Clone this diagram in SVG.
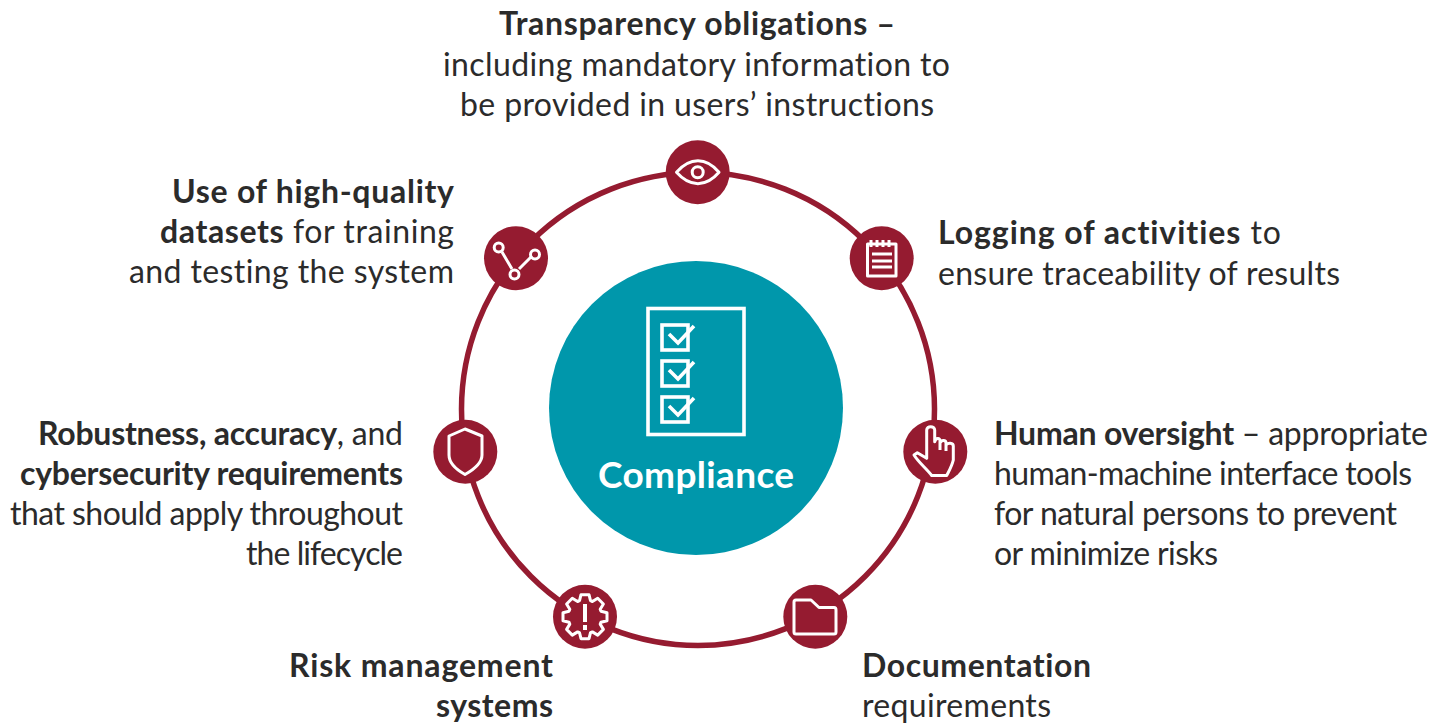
<svg xmlns="http://www.w3.org/2000/svg" width="1448" height="724" viewBox="0 0 1448 724">
<style>
text{font-family:"Lato","Noto Sans",sans-serif;font-size:32px;fill:#2b2b2b;font-variant-ligatures:none}
.b{font-weight:700}
.node{fill:#951b30}
.i{fill:none;stroke:#fff;stroke-width:3;stroke-linejoin:round;stroke-linecap:butt}
.c{fill:none;stroke:#fff;stroke-width:3.6}
</style>
<rect width="1448" height="724" fill="#fff"/>
<g id="connectors"><circle cx="698" cy="409" r="236.5" fill="none" stroke="#951b30" stroke-width="5.5"/></g>
<g id="compliance">
<circle cx="696" cy="408" r="147" fill="#0097ab"/>
<rect x="648" y="308.500" width="96" height="126" class="c"/>
<g id="check1"><rect x="662" y="325" width="26" height="25" class="c"/><path d="M669 334l9 9 16-17" class="c"/></g>
<g id="check2"><rect x="662" y="361" width="26" height="25" class="c"/><path d="M669 370l9 9 16-17" class="c"/></g>
<g id="check3"><rect x="662" y="397" width="26" height="25" class="c"/><path d="M669 406l9 9 16-17" class="c"/></g>
<text x="598" y="488" textLength="196" style="font-size:37px;font-weight:700;fill:#fff">Compliance</text>
</g>
<g id="transparency">
<circle class="node" cx="697.700" cy="172.300" r="32"/>
<path class="i" d="M676.500 172.300C690 157 706 157 719 172.300C706 187.500 690 187.500 676.500 172.300Z"/>
<circle class="i" cx="697.700" cy="172.300" r="5.500"/>
<text x="499" y="35" textLength="396" class="b">Transparency obligations –</text>
<text x="443" y="76" textLength="507">including mandatory information to</text>
<text x="460" y="116" textLength="474">be provided in users’ instructions</text>
</g>
<g id="logging">
<circle class="node" cx="881.700" cy="258.300" r="32"/>
<path class="i" d="M867.500 244H896V276H867.500ZM871 240V247M877 240V247M883 240V247M889 240V247M872 254H892M872 261H892M872 267H892"/>
<text x="938" y="244" textLength="343"><tspan class="b">Logging of activities</tspan> to</text>
<text x="938" y="285" textLength="402">ensure traceability of results</text>
</g>
<g id="oversight">
<circle class="node" cx="935.300" cy="451.700" r="32"/>
<path class="i" d="M914 455L917.300 452.700L926.700 458.300V430C926.700 425.500 934.700 425.500 934.700 430V441.700C936 437.500 940 437.500 940 441V443C941 439.500 946 439.500 946 443V445C948 442.500 953.300 442.500 953.300 446V460C952 466 949 471 946.700 475.500H931.700C926 468 919 463 914 455ZM940 441V450M946 443V451"/>
<text x="994" y="445" textLength="434"><tspan class="b">Human oversight</tspan> – appropriate</text>
<text x="994" y="485" textLength="418">human-machine interface tools</text>
<text x="994" y="525" textLength="403">for natural persons to prevent</text>
<text x="994" y="565" textLength="224">or minimize risks</text>
</g>
<g id="documentation">
<circle class="node" cx="815.300" cy="616.700" r="32"/>
<path class="i" d="M794 602C794 600.500 795 600 796 600H811L819 607.500H834C835.500 607.500 836 608.500 836 610V632C836 633.500 835 634 834 634H796C795 634 794 633.500 794 632Z"/>
<text x="862" y="677" textLength="229" class="b">Documentation</text>
<text x="862" y="717" textLength="189">requirements</text>
</g>
<g id="risk">
<circle class="node" cx="585" cy="616.700" r="32"/>
<path class="i" transform="translate(585 616.700)" d="M-4-22L4-22L5.500-16L7.400-15.200L12.700-18.400L18.400-12.700L15.200-7.400L16-5.500L22-4L22 4L16 5.500L15.200 7.400L18.400 12.700L12.700 18.400L7.400 15.200L5.500 16L4 22L-4 22L-5.500 16L-7.400 15.200L-12.700 18.400L-18.400 12.700L-15.200 7.400L-16 5.500L-22 4L-22-4L-16-5.500L-15.200-7.400L-18.400-12.700L-12.700-18.400L-7.400-15.200L-5.500-16Z"/>
<path d="M585 604V622M585 625V630" fill="none" stroke="#fff" stroke-width="4"/>
<text x="289" y="677" textLength="264" class="b">Risk management</text>
<text x="436" y="717" textLength="117" class="b">systems</text>
</g>
<g id="robustness">
<circle class="node" cx="465.300" cy="451.700" r="32"/>
<path class="i" d="M465 429L482 436V455C482 464 473 470 465 474.500C457 470 449 464 449 455V436Z"/>
<text x="38" y="445" textLength="365"><tspan class="b">Robustness, accuracy</tspan>, and</text>
<text x="20" y="485" textLength="383" class="b">cybersecurity requirements</text>
<text x="10" y="525" textLength="393">that should apply throughout</text>
<text x="246" y="565" textLength="157">the lifecycle</text>
</g>
<g id="datasets">
<circle class="node" cx="516" cy="258.300" r="32"/>
<path class="i" d="M502 252L512 269M519 269L532 256"/>
<circle class="i" cx="498.700" cy="247.500" r="4.500"/><circle class="i" cx="514.500" cy="274.500" r="4.500"/><circle class="i" cx="535" cy="254.500" r="4.500"/>
<text x="172" y="203" textLength="282" class="b">Use of high-quality</text>
<text x="160" y="243" textLength="294"><tspan class="b">datasets</tspan> for training</text>
<text x="129" y="283" textLength="325">and testing the system</text>
</g>
</svg>
